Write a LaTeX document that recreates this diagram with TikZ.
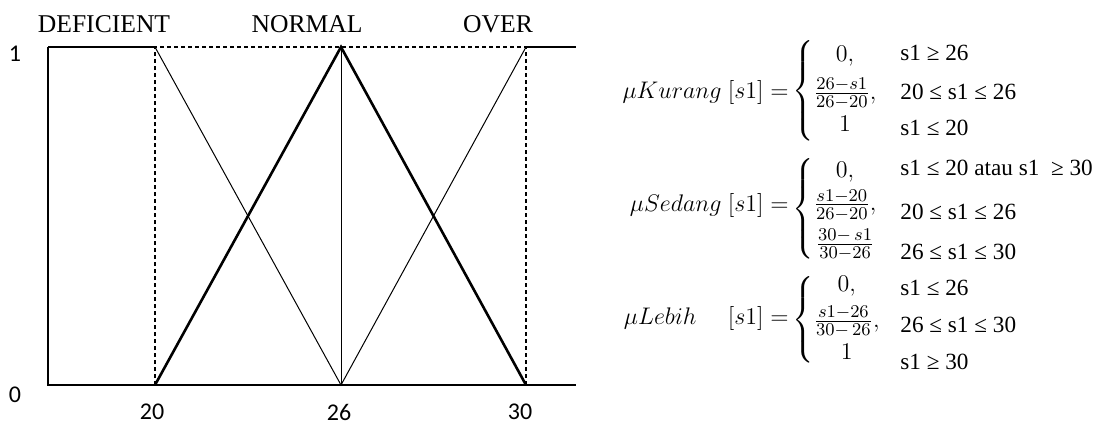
\documentclass[tikz,border=0pt]{standalone}
\usepackage{amsmath}
\usepackage{fontspec}
\setmainfont{Liberation Serif}
\newfontfamily\tickfont{Carlito}
\usetikzlibrary{positioning}

\begin{document}
\begin{tikzpicture}[x=0.5pt, y=-0.5pt,
        axis/.style={line width=0.6pt},
        thin/.style={line width=0.5pt},
        thick/.style={line width=1.3pt},
        guide/.style={line width=0.6pt, dash pattern=on 2pt off 1.5pt},
        setname/.style={font=\fontsize{12.8}{14}\selectfont, inner sep=0pt},
        tick/.style={font=\tickfont\fontsize{12}{14}\selectfont, inner sep=0pt},
        cond/.style={font=\fontsize{11.6}{13}\selectfont, inner sep=0pt, anchor=west},
        eqn/.style={font=\fontsize{12.5}{14}\selectfont, inner sep=0pt, anchor=east},
        cases/.style={font=\fontsize{12.5}{14}\selectfont, inner sep=0pt, anchor=west}
      ]
        \useasboundingbox (0,0) rectangle (1097,424);
        % corner points of the chart
        \coordinate (o) at (48,385);  \coordinate (t0) at (48,47);
        \coordinate (a0) at (155,385); \coordinate (a1) at (155,47);
        \coordinate (b0) at (341,385); \coordinate (b1) at (341,47);
        \coordinate (c0) at (526,385); \coordinate (c1) at (526,47);
        \coordinate (e0) at (576,385); \coordinate (e1) at (576,47);

        \draw[axis] (t0) -- (o) -- (e0);
        \draw[axis] (t0) -- (a1); \draw[axis] (c1) -- (e1);
        \draw[guide] (a0) -- (a1) -- (c1) -- (c0);
        \draw[thin] (a1) -- (b0) -- (c1); \draw[thin] (b1) -- (b0);
        \draw[thick] (a0) -- (b1) -- (c0); \draw[thick] (a0) -- (c0);

        \node[setname] (def) at (104,24) {DEFICIENT};
        \node[setname] (nor) at (307,24) {NORMAL};
        \node[setname] (ove) at (498,24) {OVER};
        \node[tick] (y1) at (15,54) {1};
        \node[tick] (y0) at (15,395) {0};
        \node[tick] (x20) at (152,412) {20};
        \node[tick] (x26) at (339,412) {26};
        \node[tick] (x30) at (520,412) {30};

        % membership functions
        \node[eqn] (kur) at (789,92) {$\mu Kurang\ [s1] =$};
        \node[cases] (kurc) at (792,91) {$\left\{\begin{array}{@{}c@{}}0,\\[4pt] \frac{26-s1}{26-20},\\[2pt] 1\end{array}\right.$};
        \node[cond] (k1) at (900,53) {s1 ≥ 26};
        \node[cond] (k2) at (900,92) {20 ≤ s1 ≤ 26};
        \node[cond] (k3) at (900,128) {s1 ≤ 20};

        \node[eqn] (sed) at (789,205) {$\mu Sedang\ [s1] =$};
        \node[cases] (sedc) at (792,209) {$\left\{\begin{array}{@{}c@{}}0,\\[2pt] \frac{s1-20}{26-20},\\[5pt] \frac{30-\,s1}{30-26}\end{array}\right.$};
        \node[cond] (s1) at (900,168) {s1 ≤ 20 atau s1 \ ≥ 30};
        \node[cond] (s2) at (900,212) {20 ≤ s1 ≤ 26};
        \node[cond] (s3) at (900,252) {26 ≤ s1 ≤ 30};

        \node[eqn] (leb) at (789,318) {$\mu Lebih\quad\ [s1] =$};
        \node[cases] (lebc) at (792,320) {$\left\{\begin{array}{@{}c@{}}0,\\[3pt] \frac{s1-26}{30-\,26},\\[2pt] 1\end{array}\right.$};
        \node[cond] (l1) at (900,288) {s1 ≤ 26};
        \node[cond] (l2) at (900,325) {26 ≤ s1 ≤ 30};
        \node[cond] (l3) at (900,362) {s1 ≥ 30};
      \end{tikzpicture}
\end{document}
